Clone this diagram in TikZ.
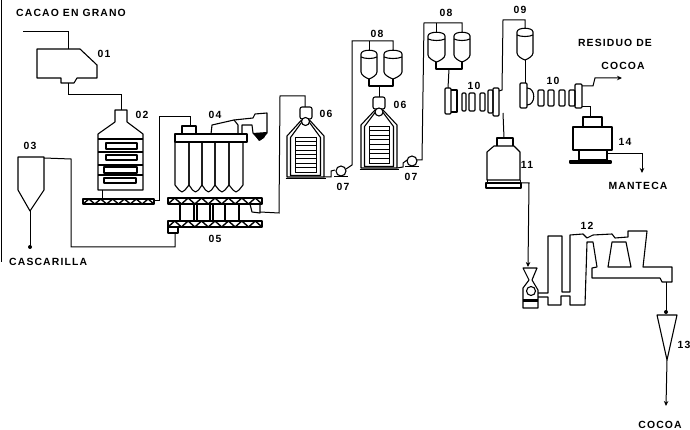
\documentclass[tikz,border=0pt]{standalone}
\usepackage{fontspec}
\newfontfamily\lblfont{Liberation Sans}[LetterSpace=11]
\usetikzlibrary{arrows.meta}
\tikzset{
  x=1pt,y=-1pt,
  equip/.style={draw=black,line width=1.1pt,line join=round},
  pipe/.style={draw=black,line width=1pt,line join=miter},
  plate/.style={equip,rounded corners=1pt},
  thin part/.style={draw=black,line width=.8pt},
  flow/.style={pipe,-{Stealth[length=5pt,width=4.5pt]}},
  lbl/.style={font=\lblfont\bfseries\fontsize{10.4}{12}\selectfont,inner sep=0pt,text=black},
  blob/.style={fill=black,draw=none}
}
% screw conveyor: x1 x2 y1 y2 teeth
\newcommand\screwconv[5]{%
  \draw[equip] (#1,#3) rectangle (#2,#4);
  \pgfmathsetmacro\scrstep{(#2-#1)/#5}
  \pgfmathtruncatemacro\scrlast{#5-1}
  \foreach \i in {0,...,\scrlast}{
    \draw[line width=1.4pt] ({#1+\i*\scrstep},#4) -- ({#1+(\i+.5)*\scrstep},#3) -- ({#1+(\i+1)*\scrstep},#4);
  }
}
% drum: x1 x2 ytop ybot
\newcommand\drumvessel[4]{%
  \draw[equip] (#1,{#3+4}) .. controls (#1,{#3-1}) and (#2,{#3-1}) .. (#2,{#3+4})
     -- (#2,{#4-7}) .. controls (#2,{#4-4}) and ({(#1+#2)/2+3},{#4-1}) .. ({(#1+#2)/2},#4)
     .. controls ({(#1+#2)/2-3},{#4-1}) and (#1,{#4-4}) .. (#1,{#4-7}) -- cycle;
  \draw[equip] (#1,{#3+7}) .. controls ({#1+4},{#3+9}) and ({#2-4},{#3+9}) .. (#2,{#3+7});
}
% dryer: centre x, half width, apex y, shoulder y, bottom y
\newcommand\dryer[5]{%
  \draw[equip] ({#1-4},#3) -- ({#1-#2},#4) -- ({#1-#2},#5) -- ({#1+#2},#5) -- ({#1+#2},#4) -- ({#1+4},#3);
  \draw[equip] ({#1-4},{#3+2.5}) -- ({#1-#2+3.5},{#4+1.5}) -- ({#1-#2+3.5},{#5-1.5}) -- ({#1+#2-3.5},{#5-1.5}) -- ({#1+#2-3.5},{#4+1.5}) -- ({#1+4},{#3+2.5});
  \draw[line width=1.5pt] ({#1-#2-1.5},#5+1.5) -- ({#1+#2+2},#5+1.5);
  \draw[thin part] ({#1-#2+8},{#4+1}) rectangle ({#1+#2-8},{#5-5});
  \foreach \k in {1,...,7}{
    \draw[thin part] ({#1-#2+8},{#4+1+\k*(#5-5-#4-1)/8}) -- ({#1+#2-8},{#4+1+\k*(#5-5-#4-1)/8});
  }
}
% pump: centre x, y
\newcommand\pumpunit[2]{%
  \draw[equip] (#1,#2) circle (5);
  \draw[line width=1.4pt] ({#1-7},{#2+5.5}) -- ({#1+7},{#2+5.5});
}
\begin{document}
\begin{tikzpicture}
\useasboundingbox[fill=white] (0,0) rectangle (690,430);
\draw[line width=1.2pt] (1.5,0) -- (1.5,262);

% ---------- labels
\node[lbl,anchor=west] (tCacao) at (16,13) {CACAO EN GRANO};
\node[lbl] (t01) at (104,54) {01};
\node[lbl] (t02) at (142,115) {02};
\node[lbl] (t03) at (30,146) {03};
\node[lbl] (t04) at (215,115) {04};
\node[lbl] (t05) at (215,239) {05};
\node[lbl,anchor=west] (tCasc) at (9,262) {CASCARILLA};
\node[lbl] (t06a) at (326,114) {06};
\node[lbl] (t06b) at (400,105) {06};
\node[lbl] (t07a) at (343,187) {07};
\node[lbl] (t07b) at (411,177) {07};
\node[lbl] (t08a) at (377,34) {08};
\node[lbl] (t08b) at (446,13) {08};
\node[lbl] (t09) at (520,10) {09};
\node[lbl] (t10a) at (474,86) {10};
\node[lbl] (t10b) at (553,81) {10};
\node[lbl] (tRes) at (615,43) {RESIDUO DE};
\node[lbl] (tCoc1) at (623,66) {COCOA};
\node[lbl] (t14) at (625,142) {14};
\node[lbl] (tMan) at (638,186) {MANTECA};
\node[lbl] (t11) at (527,165) {11};
\node[lbl] (t12) at (587,226) {12};
\node[lbl] (t13) at (684,345) {13};
\node[lbl] (tCoc2) at (660,425) {COCOA};

% ---------- 01 hopper
\draw[equip] (37,49) -- (80,49) -- (97,65) -- (97,78) -- (77,78) -- (74,83) -- (61,83) -- (61,78) -- (37,78) -- cycle;
\coordinate (in01) at (68,49);
\coordinate (out01) at (68,83);
\coordinate (src01) at (23,32);

% ---------- 02 tower
\draw[equip] (115,110) -- (127,110) -- (127,122) -- (143,134) -- (143,190) -- (98,190) -- (98,134) -- (115,122) -- cycle;
\foreach \y in {139,152,165,175}{\draw[equip] (98,\y) -- (143,\y);}
\draw[equip] (106,143) rectangle (137,149);
\draw[equip] (106,155) rectangle (137,160);
\draw[equip] (104,167) rectangle (137,173);
\draw[equip] (104,178) rectangle (136,183);
\coordinate (in02) at (121,110);
\coordinate (out02) at (102,190);
\screwconv{83}{154}{199}{204}{6}
\coordinate (in2s) at (102,199);
\coordinate (out2s) at (154,201);

% ---------- 04 bank
\draw[equip] (182,134) -- (182,126) -- (196,126) -- (196,134);
\draw[equip] (175,134) rectangle (247,142);
\foreach \a/\b in {175/189,189/202,202/215,215/229,229/243}{
  \draw[equip] (\a,142) -- (\a,185) -- ({(\a+\b)/2-3},190) -- ({(\a+\b)/2},192) -- ({(\a+\b)/2+3},190) -- (\b,185) -- (\b,142);
}
\draw[equip] (211,134) -- (212,125) -- (234,120) -- (238,125) -- (238,134);
\draw[equip] (234,120) -- (253,118) -- (255,114) -- (267,113) -- (267,133) -- (260,140);
\draw[equip] (242,134) -- (242,125) -- (252,125) -- (253,133) -- (260,140);
\fill[blob] (253,133) -- (267,132) -- (264,138) -- (259,141) -- cycle;
\coordinate (in04) at (190,126);

% ---------- 05 twin conveyor
\screwconv{168}{262}{198}{204}{7}
\screwconv{168}{262}{221}{227}{7}
\foreach \x in {180,194,197,210,213,225,239}{
  \draw[equip] (\x,204) -- (\x,221);
}
\draw[equip] (250,204) -- (252,212) -- (260,213) -- (260,204);
\draw[equip] (168,227) rectangle (178,233);
\coordinate (out05) at (260,212);
\coordinate (in05) at (175,233);

% ---------- 03 cyclone
\draw[equip] (18,157) -- (44,157) -- (44,190) -- (30,211) -- (18,190) -- cycle;
\coordinate (tip03) at (30,211);
\coordinate (end03) at (30,247);
\coordinate (out03) at (44,158);
\fill[blob] (end03) circle (2);

% ---------- 06 first
\draw[equip,rounded corners=2pt] (300,107) rectangle (312,119);
\draw[equip,fill=white] (305.5,121.5) circle (4);
\dryer{305.5}{18.5}{120}{136}{177}
\coordinate (in06a) at (305,107);
\coordinate (out06a) at (324,177);
\pumpunit{341}{171}
\coordinate (in07a) at (335,170);
\coordinate (out07a) at (346,169);

% ---------- 08 first pair
\drumvessel{361}{377}{50}{79}
\drumvessel{384}{402}{50}{79}
\coordinate (d1a) at (369,50);
\coordinate (d1b) at (393,50);
\draw[equip] (369,79) -- (369,86) -- (393,86) -- (393,79);
\coordinate (j1) at (379,86);

% ---------- 06 second
\draw[equip,rounded corners=2pt] (373,97) rectangle (385,109);
\draw[equip,fill=white] (379,112) circle (4);
\dryer{379}{18}{110}{125}{168}
\coordinate (in06b) at (379,97);
\coordinate (out06b) at (397,168);
\pumpunit{412}{161}
\coordinate (in07b) at (407,160);
\coordinate (out07b) at (417,160);

% ---------- 08 second pair
\drumvessel{428}{445}{32}{62}
\drumvessel{454}{470}{32}{62}
\coordinate (d2a) at (436,32);
\coordinate (d2b) at (462,32);
\draw[equip] (436,62) -- (436,69) -- (462,69) -- (462,61);
\coordinate (j2) at (449,69);

% ---------- 10 first press
\draw[plate] (445,88) rectangle (451,114);
\draw[equip] (451,90) -- (457,90) -- (457,112) -- (451,112);
\foreach \a/\b in {462/466,469/475,480/485}{\draw[plate] (\a,93) rectangle (\b,111);}
\draw[plate] (488,90) rectangle (493,113);
\draw[plate] (493,88) rectangle (499,116);
\coordinate (in10a) at (448,88);
\coordinate (out10a) at (499,91);
\coordinate (low10a) at (503,113);

% ---------- 09 drum and second press
\drumvessel{517}{533}{28}{60}
\coordinate (top09) at (525,28);
\coordinate (bot09) at (525,60);
\draw[plate] (520,83) rectangle (527,108);
\draw[equip] (527,88) .. controls (536,88) and (536,105) .. (527,105);
\foreach \a/\b in {538/544,548/554,559/565,569/575}{\draw[plate] (\a,90) rectangle (\b,106);}
\draw[plate] (575,84) rectangle (582,108);
\coordinate (in10b) at (525,83);
\coordinate (res10b) at (582,86);
\coordinate (low10b) at (582,107);
\coordinate (arrRes) at (622,78);

% ---------- 14 separator
\draw[equip] (583,117) rectangle (602,127);
\draw[equip] (573,127) rectangle (612,150);
\draw[equip] (579,150) rectangle (607,160);
\draw[equip] (570,161) rectangle (611,163);
\coordinate (in14) at (590,117);
\coordinate (out14) at (607,154);
\coordinate (arrMan) at (642,173);

% ---------- 11 press
\draw[equip] (497,146) -- (497,138) -- (513,138) -- (513,146);
\draw[equip] (487,180) -- (487,152) -- (494,146) -- (514,146) -- (520,152) -- (520,180) -- cycle;
\draw[equip] (486,183) rectangle (521,188);
\draw[line width=1pt] (487,180) -- (487,183) (520,180) -- (520,183);
\coordinate (in11) at (504,138);
\coordinate (out11) at (521,183);

% ---------- crusher
\draw[equip] (523,268) -- (537,268) -- (532,280) -- (538,290) -- (538,308) -- (523,308) -- (523,288) -- (529,280) -- cycle;
\draw[equip] (531,291) circle (4.5);
\fill[blob] (523,299) rectangle (538,302);
\coordinate (inCr) at (528,267);

% ---------- 12 duct
\draw[equip] (538,293) -- (548,293) -- (548,236) -- (562,236) -- (562,292) -- (570,292) -- (570,235) -- (583,234) -- (587,238) -- (593,235) -- (612,234) -- (615,238) -- (628,237) -- (628,231) -- (647,231) -- (643,267) -- (672,267) -- (672,282) -- (662,282) -- (660,278) -- (592,278) -- (592,268) -- (597,267) -- (593,242) -- (587,242) -- (585,305) -- (570,305) -- (570,296) -- (561,296) -- (561,305) -- (548,305) -- (548,297) -- (538,297);
\draw[equip] (612,242) -- (626,242) -- (631,267) -- (608,267) -- cycle;
\coordinate (out12) at (666,282);

% ---------- 13 cyclone
\draw[equip] (657,315) -- (677,315) -- (667,360) -- cycle;
\coordinate (in13) at (666,312);
\coordinate (tip13) at (667,360);
\coordinate (arrCoc) at (666,406);
\fill[blob] (in13) circle (2);

% ---------- connectors
\draw[pipe] (src01) -- (68,32) -- (in01);
\draw[pipe] (out01) -- (68,95) -- (121,95) -- (in02);
\draw[pipe] (out02) -- (in2s);
\draw[pipe] (out2s) -- (159,201) -- (159,117) -- (190,117) -- (in04);
\draw[pipe] (out03) -- (71,159) -- (71,247) -- (175,247) -- (in05);
\draw[pipe] (tip03) -- (end03);
\draw[pipe] (out05) -- (279,213) -- (280,96) -- (305,96) -- (in06a);
\draw[pipe] (out06a) -- (331,177) -- (331,171) -- (in07a);
\draw[pipe] (out07a) -- (352,165) -- (352,41) -- (393,41) -- (d1b);
\draw[pipe] (369,41) -- (d1a);
\draw[pipe] (j1) -- (in06b);
\draw[pipe] (out06b) -- (403,167) -- (403,163) -- (in07b);
\draw[pipe] (out07b) -- (422,160) -- (424,23) -- (462,23) -- (d2b);
\draw[pipe] (436,23) -- (d2a);
\draw[pipe] (j2) -- (in10a);
\draw[pipe] (out10a) -- (502,90) -- (503,20) -- (525,20) -- (top09);
\draw[pipe] (low10a) -- (in11);
\draw[pipe] (bot09) -- (in10b);
\draw[flow] (res10b) -- (593,86) -- (595,78) -- (arrRes);
\draw[pipe] (low10b) -- (590,107) -- (in14);
\draw[flow] (out14) -- (642,154) -- (arrMan);
\draw[flow] (out11) -- (529,183) -- (inCr);
\draw[pipe] (out12) -- (in13);
\draw[flow] (tip13) -- (arrCoc);
\end{tikzpicture}
\end{document}
